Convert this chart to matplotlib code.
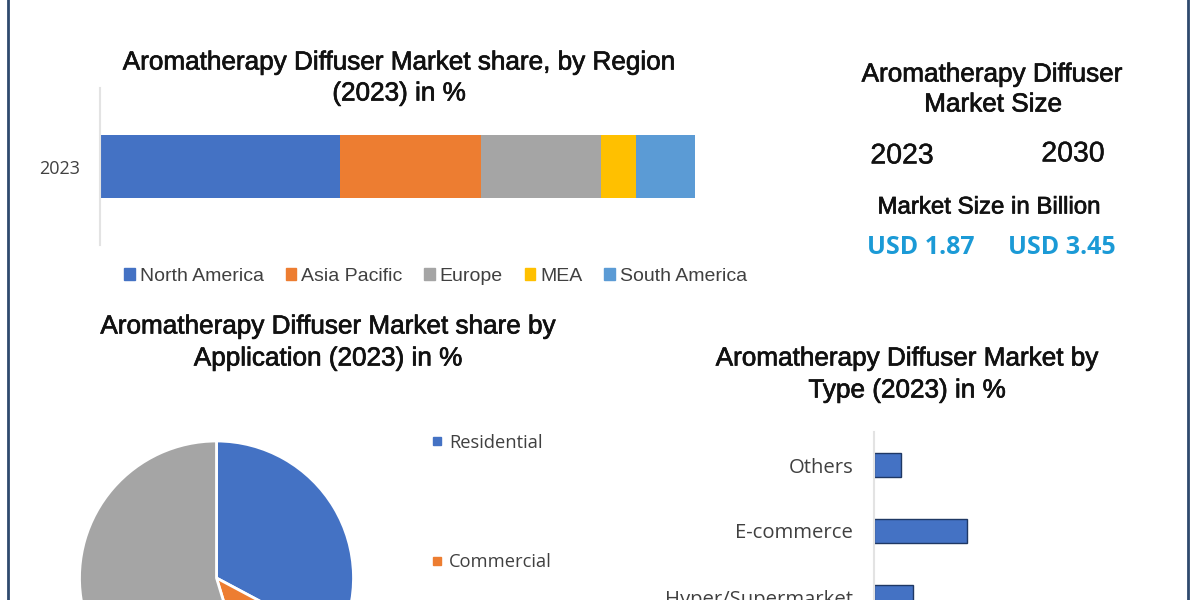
import matplotlib
matplotlib.use('Agg')
import matplotlib.pyplot as plt
import matplotlib.patheffects as pe
from matplotlib.lines import Line2D
from matplotlib.patches import Patch

# data
regions = ['North America', 'Asia Pacific', 'Europe', 'MEA', 'South America']
region_share = [40.3, 23.7, 20.2, 5.9, 9.9]
region_colors = ['#4472C4', '#ED7D31', '#A5A5A5', '#FFC000', '#5B9BD5']

app_labels = ['Residential', 'Commercial']
app_share = [32.8, 12.5, 54.7]
app_colors = ['#4472C4', '#ED7D31', '#A5A5A5']

type_labels = ['Others', 'E-commerce', 'Hyper/Supermarket']
type_share = [27, 93, 39]

size_years = ['2023', '2030']
size_values = ['USD 1.87', 'USD 3.45']

W, H = 1200, 600
fig = plt.figure(figsize=(12, 6), dpi=100, facecolor='white')


def box(left, top, right, bottom):
    # axes rectangle from picture pixels
    return [left / W, 1 - bottom / H, (right - left) / W, (bottom - top) / H]


def label(x, y, s, size=18.8, color='#111111', family='Liberation Sans', stroke=0.5, weight='normal'):
    t = fig.text(x / W, 1 - (y + 1.5) / H, s, ha='center', va='center', fontsize=size,
                 color=color, family=family, weight=weight)
    if stroke:
        t.set_path_effects([pe.withStroke(linewidth=stroke, foreground=color)])
    return t


# frame lines left and right
for x in (7.5, 1188):
    fig.add_artist(Line2D([x / W, x / W], [0, 1], color='#2F4A6E', lw=2))

# region stacked bar
ax1 = fig.add_axes(box(100, 88, 695, 245))
left = 0
for name, val, col in zip(regions, region_share, region_colors):
    ax1.barh([0], [val], left=left, height=0.4, color=col, label=name)
    left += val
ax1.set_xlim(0, 100)
ax1.set_ylim(-0.5, 0.5)
ax1.set_yticks([0])
ax1.set_yticklabels(['2023'], family='Open Sans', fontsize=13, color='#404040')
ax1.tick_params(axis='y', length=0, pad=14)
ax1.set_xticks([])
for s in ('top', 'right', 'bottom'):
    ax1.spines[s].set_visible(False)
ax1.spines['left'].set_color('#E3E3E3')
ax1.spines['left'].set_linewidth(1.5)
handles = [Patch(color=c) for c in region_colors]
ax1.legend(handles, regions, ncol=5, loc='center', bbox_to_anchor=(0.564, -0.2), frameon=False,
           prop={'family': 'Liberation Sans', 'size': 14}, labelcolor='#404040',
           handlelength=0.55, handleheight=0.55, handletextpad=0.25, columnspacing=1.12)

label(399, 61, 'Aromatherapy Diffuser Market share, by Region')
label(399, 92, '(2023) in %')

# application pie, runs past the bottom edge
ax2 = fig.add_axes(box(79.5, 441, 353.5, 715))
wedges, _ = ax2.pie(app_share, colors=app_colors, startangle=90, counterclock=False,
                    wedgeprops={'edgecolor': 'white', 'linewidth': 2})
ax2.set_xlim(-1, 1)
ax2.set_ylim(-1, 1)
for w in wedges:
    w.set_clip_on(False)
pie_handles = [Line2D([], [], marker='s', ls='', ms=5.5, color=c) for c in app_colors[:2]]
fig.legend(pie_handles, app_labels, loc='upper left', bbox_to_anchor=(409.5 / W, 1 - 417 / H),
           frameon=False, prop={'family': 'Open Sans', 'size': 13.2}, labelcolor='#404040',
           labelspacing=5.56, handletextpad=0.05, handlelength=1.2)

label(328, 325, 'Aromatherapy Diffuser Market share by')
label(328, 357, 'Application (2023) in %')

# type bars, third one cut by the bottom edge
ax3 = fig.add_axes(box(874, 432, 1100, 630))
ax3.barh(range(len(type_labels)), type_share, height=0.37, color='#4472C4', edgecolor='#1F3864', linewidth=1)
ax3.set_xlim(0, 226)
ax3.set_ylim(2.5, -0.5)
ax3.set_yticks(range(len(type_labels)))
ax3.set_yticklabels(type_labels, family='Open Sans', fontsize=14.6, color='#404040')
ax3.tick_params(axis='y', length=0, pad=15)
ax3.set_xticks([])
for s in ('top', 'right', 'bottom'):
    ax3.spines[s].set_visible(False)
ax3.spines['left'].set_color('#E3E3E3')
ax3.spines['left'].set_linewidth(1.5)

label(907, 357, 'Aromatherapy Diffuser Market by')
label(907, 389, 'Type (2023) in %')

# market size block
label(992, 73, 'Aromatherapy Diffuser')
label(993, 103, 'Market Size')
label(902, 155, size_years[0], size=20.5, stroke=0.3)
label(1073, 153, size_years[1], size=20.5, stroke=0.3)
label(989, 206, 'Market Size in Billion', size=17.3)
label(921, 245.5, size_values[0], size=18, color='#1B9AD6', family='Open Sans', stroke=0, weight='bold')
label(1062, 245.5, size_values[1], size=18, color='#1B9AD6', family='Open Sans', stroke=0, weight='bold')

fig.savefig('out.png', dpi=100)
